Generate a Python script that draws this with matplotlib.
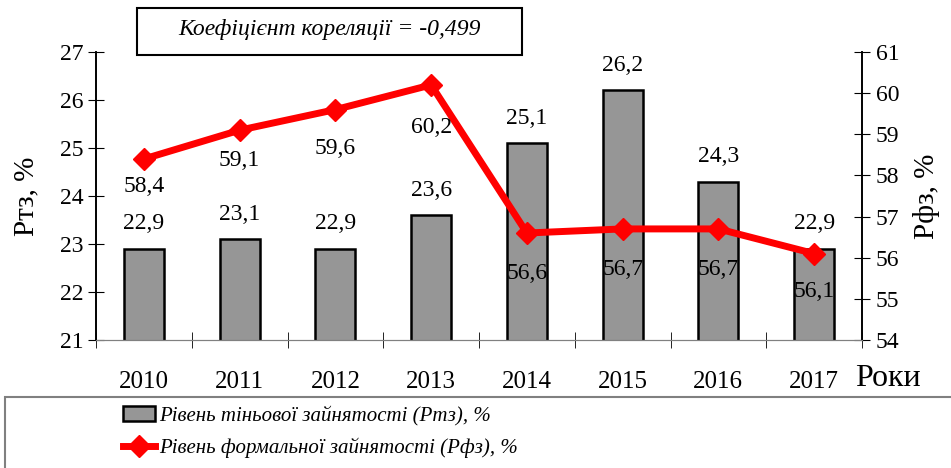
import matplotlib.pyplot as plt
from matplotlib.patches import Rectangle
import numpy as np

plt.rcParams['font.family'] = ['Liberation Serif', 'DejaVu Serif']

years = ['2010', '2011', '2012', '2013', '2014', '2015', '2016', '2017']
rtz = [22.9, 23.1, 22.9, 23.6, 25.1, 26.2, 24.3, 22.9]
rfz = [58.4, 59.1, 59.6, 60.2, 56.6, 56.7, 56.7, 56.1]
rtz_labels = ['22,9', '23,1', '22,9', '23,6', '25,1', '26,2', '24,3', '22,9']
rfz_labels = ['58,4', '59,1', '59,6', '60,2', '56,6', '56,7', '56,7', '56,1']
# vertical offsets (points) of the line labels, as placed in the original
rfz_offsets = [-20, -22, -28, -31, -29, -29, -29, -27]

x = np.arange(len(years))

fig = plt.figure(figsize=(9.51, 4.68), dpi=100)
ax = fig.add_axes([96/951, 1-340/468, (862-96)/951, (340-52)/468])
ax2 = ax.twinx()

ax.bar(x, rtz, width=0.42, color='#969696', edgecolor='black', linewidth=1.8,
       zorder=2)
for xi, v, s in zip(x, rtz, rtz_labels):
    ax.annotate(s, (xi, v), xytext=(0, 18), textcoords='offset points',
                ha='center', va='center', fontsize=17)

ax.set_xlim(-0.5, 7.5)
ax.set_ylim(21, 27)
ax.set_yticks(range(21, 28))
ax.set_xticks(x)
ax.set_xticklabels(years, fontsize=18)
ax.set_xticks(np.arange(-0.5, 8, 1), minor=True)
ax.tick_params(axis='x', which='major', length=0, pad=22)
ax.tick_params(axis='x', which='minor', length=12, direction='inout', color='black')
ax.tick_params(axis='y', direction='inout', length=12, labelsize=17, pad=3)

ax2.plot(x, rfz, color='#ff0000', lw=5, marker='D', markersize=11, zorder=3)
for xi, v, s, off in zip(x, rfz, rfz_labels, rfz_offsets):
    ax2.annotate(s, (xi, v), xytext=(0, off), textcoords='offset points',
                 ha='center', va='center', fontsize=17)
ax2.set_ylim(54, 61)
ax2.set_yticks(range(54, 62))
ax2.tick_params(axis='y', direction='inout', length=12, labelsize=17, pad=4)

for a in (ax, ax2):
    a.spines['top'].set_visible(False)
    a.spines['bottom'].set_color('#808080')
    a.spines['left'].set_linewidth(1.2)
    a.spines['right'].set_linewidth(1.2)
ax.set_zorder(ax2.get_zorder() - 1)
ax.patch.set_visible(False)
ax2.patch.set_visible(False)

ax.set_ylabel('Ртз, %', fontsize=21, labelpad=15)
ax2.set_ylabel('Рфз, %', fontsize=21, labelpad=10)
fig.text(888/951, 1-378/468, 'Роки', fontsize=23, ha='center', va='center')

# correlation box
fig.patches.append(Rectangle((137/951, 1-55/468), (522-137)/951, 47/468,
                             transform=fig.transFigure, fill=False,
                             edgecolor='black', lw=1.5))
fig.text(330/951, 1-30/468, 'Коефіцієнт кореляції = -0,499', fontsize=17,
         style='italic', ha='center', va='center')

# legend frame
fig.patches.append(Rectangle((5/951, -0.05), 1.0, 1-397/468 + 0.05,
                             transform=fig.transFigure, fill=False,
                             edgecolor='#808080', lw=1.5))
h1 = Rectangle((0, 0), 1, 1, facecolor='#969696', edgecolor='black', lw=1.8)
h2, = plt.plot([], [], color='#ff0000', lw=5, marker='D', markersize=11)
fig.legend([h1, h2],
           ['Рівень тіньової зайнятості (Ртз), %',
            'Рівень формальної зайнятості (Рфз), %'],
           loc='center left', bbox_to_anchor=(123/951, 1-432/468),
           frameon=False, prop={'style': 'italic', 'size': 15},
           handlelength=1.55, handletextpad=0.2, labelspacing=0.6,
           borderpad=0, borderaxespad=0)

fig.savefig('out.png', dpi=100)
